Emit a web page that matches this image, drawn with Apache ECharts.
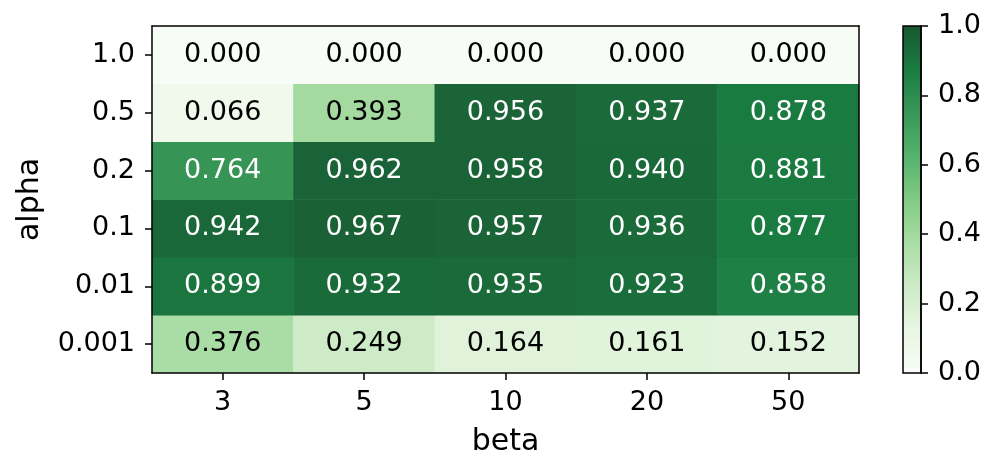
<!DOCTYPE html>
<html>
<head>
<meta charset="utf-8">
<script src="https://cdn.jsdelivr.net/npm/echarts@6/dist/echarts.min.js"></script>
<style>
html,body{margin:0;padding:0;background:#fff;}
#c{width:998px;height:474px;}
</style>
</head>
<body>
<div id="c"></div>
<script>
const betaLabels = ['3', '5', '10', '20', '50'];
const alphaLabels = ['0.001', '0.01', '0.1', '0.2', '0.5', '1.0']; // bottom to top
// rows listed bottom to top, matching alphaLabels
const row_0_001 = [0.376, 0.249, 0.164, 0.161, 0.152];
const row_0_01  = [0.899, 0.932, 0.935, 0.923, 0.858];
const row_0_1   = [0.942, 0.967, 0.957, 0.936, 0.877];
const row_0_2   = [0.764, 0.962, 0.958, 0.940, 0.881];
const row_0_5   = [0.066, 0.393, 0.956, 0.937, 0.878];
const row_1_0   = [0.000, 0.000, 0.000, 0.000, 0.000];
const rows = [row_0_001, row_0_01, row_0_1, row_0_2, row_0_5, row_1_0];
const colorbarTicks = [0.0, 0.2, 0.4, 0.6, 0.8, 1.0];

// matplotlib "Greens" stops, blended at alpha 0.9 over white
const greens = ['#f8fcf6', '#e8f6e3', '#cdebc6', '#aadda5', '#82ca84', '#54b36d', '#399758', '#1a7c41', '#1a5732'];

const data = [];
rows.forEach((r, yi) => r.forEach((v, xi) => data.push([xi, yi, v])));

const FONT = 'DejaVu Sans';
const TICK = 27;
const chart = echarts.init(document.getElementById('c'), null, {renderer: 'canvas'});
chart.setOption({
  animation: false,
  backgroundColor: '#fff',
  textStyle: {fontFamily: FONT},
  grid: [
    {left: 152, top: 26, width: 707, height: 347, show: false},
    {left: 903, top: 26, width: 18, height: 347, show: true, borderColor: '#000', borderWidth: 1.5, backgroundColor: 'transparent', z: 10}
  ],
  xAxis: [
    {
      type: 'category', data: betaLabels, gridIndex: 0, position: 'bottom', z: 10,
      name: 'beta', nameLocation: 'middle', nameGap: 54,
      nameTextStyle: {fontFamily: FONT, fontSize: 30, color: '#000'},
      axisLine: {show: true, onZero: false, lineStyle: {color: '#000', width: 1.5}},
      axisTick: {show: true, alignWithLabel: true, length: 7, lineStyle: {color: '#000', width: 1.5}},
      axisLabel: {fontFamily: FONT, fontSize: TICK, color: '#000', margin: 16},
      splitLine: {show: false}
    },
    {
      type: 'category', data: betaLabels, gridIndex: 0, position: 'top', z: 10,
      axisLine: {show: true, onZero: false, lineStyle: {color: '#000', width: 1.5}},
      axisTick: {show: false}, axisLabel: {show: false}, splitLine: {show: false}
    },
    {
      type: 'category', data: [''], gridIndex: 1, show: false
    }
  ],
  yAxis: [
    {
      type: 'category', data: alphaLabels, gridIndex: 0, position: 'left', z: 10,
      name: 'alpha', nameLocation: 'middle', nameGap: 107, nameRotate: 90,
      nameTextStyle: {fontFamily: FONT, fontSize: 30, color: '#000'},
      axisLine: {show: true, onZero: false, lineStyle: {color: '#000', width: 1.5}},
      axisTick: {show: true, alignWithLabel: true, length: 7, lineStyle: {color: '#000', width: 1.5}},
      axisLabel: {fontFamily: FONT, fontSize: TICK, color: '#000', margin: 17},
      splitLine: {show: false}
    },
    {
      type: 'category', data: alphaLabels, gridIndex: 0, position: 'right', z: 10,
      axisLine: {show: true, onZero: false, lineStyle: {color: '#000', width: 1.5}},
      axisTick: {show: false}, axisLabel: {show: false}, splitLine: {show: false}
    },
    {
      type: 'value', gridIndex: 1, position: 'right', min: 0, max: 1, interval: 0.2, z: 10,
      axisLine: {show: true, onZero: false, lineStyle: {color: '#000', width: 1.5}},
      axisTick: {show: true, length: 7, lineStyle: {color: '#000', width: 1.5}},
      axisLabel: {fontFamily: FONT, fontSize: TICK, color: '#000', margin: 17,
        formatter: v => { const t = colorbarTicks.find(x => Math.abs(x - v) < 1e-9); return (t === undefined ? v : t).toFixed(1); }},
      splitLine: {show: false}
    }
  ],
  visualMap: {
    type: 'continuous', min: 0, max: 1, calculable: false, orient: 'vertical',
    left: 903, top: 26, itemWidth: 18, itemHeight: 347, padding: 0,
    text: null, showLabel: false, hoverLink: false, seriesIndex: 0,
    inRange: {color: greens}
  },
  series: [{
    type: 'heatmap', xAxisIndex: 0, yAxisIndex: 0, data: data, z: 2,
    itemStyle: {borderWidth: 0},
    emphasis: {disabled: true},
    label: {
      show: true, fontFamily: FONT, fontSize: TICK,
      formatter: p => (p.value[2] > 0.5 ? '{w|' : '{k|') + p.value[2].toFixed(3) + '}',
      rich: {
        w: {color: '#fff', fontFamily: FONT, fontSize: TICK},
        k: {color: '#000', fontFamily: FONT, fontSize: TICK}
      }
    }
  }]
});
</script>
</body>
</html>
